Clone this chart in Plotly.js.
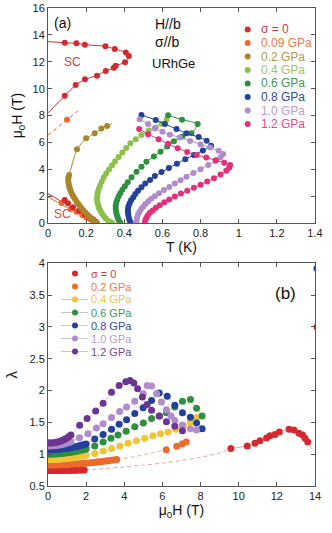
<!DOCTYPE html>
<html><head><meta charset="utf-8">
<script src="https://cdn.plot.ly/plotly-3.0.1.min.js"></script>
<style>html,body{margin:0;padding:0;background:#fff}#chart{width:332px;height:533px}</style>
</head><body><div id="chart"></div>
<script>
// ================= Panel (a): T (K) vs mu0H (T) =================
const labelsA = ['σ = 0', '0.09 GPa', '0.2 GPa', '0.4 GPa', '0.6 GPa', '0.8 GPa', '1.0 GPa', '1.2 GPa'];
const colorsA = ['#d42a2f', '#ec6a2c', '#a8862a', '#8cc04a', '#2f8f3f', '#23409a', '#b18ccb', '#e3307a'];
const textColorsA = ['#d6393b', '#ee7a45', '#b39650', '#9cc862', '#3f9650', '#2f4aa0', '#bd9ad2', '#e44a8a'];

// sigma = 0
const s0HiT = [0.088,0.149,0.193,0.301,0.350,0.408,0.424,0.404,0.355,0.345,0.303,0.257,0.194,0.145,0.088];
const s0HiH = [13.42,13.37,13.27,13.15,12.95,12.70,12.43,11.96,11.71,11.56,11.32,10.97,10.70,10.27,9.48];
const s0HiEndT = [0, 0];
const s0HiEndH = [13.5, 8.2];
const s0LoT = [0.088,0.105,0.131,0.163,0.193,0.215,0.236,0.250];
const s0LoH = [1.72,1.48,1.18,0.93,0.66,0.48,0.29,0.12];
const s0LoLineT = [0, 0.265];
const s0LoLineH = [2.2, 0];
// 0.09 GPa
const p009HiT = [0.100];
const p009HiH = [7.70];
const p009DashT = [0, 0.100, 0.170];
const p009DashH = [6.55, 7.70, 8.50];
const p009LoT = [0.070,0.120,0.150,0.180,0.200,0.220,0.235,0.245];
const p009LoH = [1.50,1.05,0.85,0.60,0.45,0.30,0.18,0.08];
const p009LoLineT = [0, 0.25];
const p009LoLineH = [1.95, 0];
// 0.2 GPa
const p02T = [0.310,0.280,0.245,0.200,0.152,0.111,0.107,0.106,0.107,0.109,0.112,0.116,0.121,0.127,0.134,0.142,0.150,0.159,0.168,0.177,0.186,0.196,0.206,0.216,0.226,0.236,0.246,0.256];
const p02H = [7.22,7.05,6.68,6.31,5.49,3.58,3.40,3.22,3.04,2.86,2.68,2.50,2.32,2.14,1.96,1.78,1.60,1.42,1.26,1.10,0.95,0.80,0.65,0.50,0.36,0.24,0.12,0.03];
const p02TopT = [0.335];
const p02TopH = [7.40];
// 0.4 GPa
const p04T = [0.622,0.595,0.565,0.528,0.490,0.460,0.432,0.410,0.390,0.370,0.352,0.336,0.320,0.305,0.292,0.282,0.273,0.266,0.261,0.258,0.257,0.259,0.263,0.268,0.275,0.283,0.292,0.302,0.315,0.328,0.338];
const p04H = [7.70,7.40,7.12,6.90,6.55,6.25,5.95,5.60,5.25,4.92,4.60,4.30,4.00,3.70,3.40,3.10,2.80,2.55,2.30,2.05,1.80,1.56,1.33,1.12,0.92,0.72,0.54,0.36,0.19,0.08,0.02];
// 0.6 GPa
const p06T = [0.630,0.703,0.785,0.752,0.705,0.660,0.625,0.590,0.555,0.516,0.490,0.464,0.438,0.418,0.403,0.390,0.379,0.370,0.363,0.358,0.355,0.355,0.357,0.360,0.364,0.369,0.374,0.379];
const p06H = [8.02,7.70,7.37,6.68,6.45,6.10,5.70,5.32,4.95,4.57,4.20,3.83,3.41,3.05,2.75,2.48,2.22,1.98,1.75,1.52,1.30,1.08,0.86,0.66,0.47,0.30,0.15,0.03];
// 0.8 GPa
const p08T = [0.490,0.565,0.613,0.674,0.726,0.790,0.832,0.855,0.812,0.765,0.720,0.676,0.634,0.595,0.560,0.535,0.510,0.490,0.472,0.458,0.447,0.436,0.428,0.422,0.419,0.419,0.421,0.424,0.428,0.433];
const p08H = [8.04,7.67,7.37,7.00,6.68,6.40,6.13,5.76,5.40,5.07,4.75,4.42,4.10,3.80,3.50,3.22,2.95,2.68,2.42,2.17,1.93,1.70,1.48,1.26,1.04,0.82,0.61,0.41,0.22,0.05];
// 1.0 GPa
const p10T = [0.481,0.525,0.560,0.600,0.639,0.690,0.745,0.800,0.850,0.895,0.918,0.905,0.878,0.840,0.800,0.762,0.726,0.695,0.665,0.636,0.608,0.582,0.560,0.541,0.525,0.511,0.499,0.488,0.479,0.472,0.467,0.464];
const p10H = [7.72,7.37,7.05,6.80,6.58,6.38,6.12,5.86,5.62,5.38,5.15,4.90,4.62,4.32,4.02,3.74,3.46,3.20,2.95,2.70,2.46,2.23,2.01,1.81,1.61,1.42,1.23,1.04,0.84,0.62,0.38,0.12];
// 1.2 GPa
const p12T = [0.478,0.525,0.580,0.630,0.680,0.730,0.780,0.830,0.880,0.924,0.955,0.950,0.935,0.905,0.870,0.835,0.800,0.765,0.730,0.697,0.665,0.636,0.610,0.586,0.566,0.549,0.535,0.524,0.516,0.511,0.508];
const p12H = [7.00,6.62,6.25,5.90,5.58,5.30,5.07,4.88,4.68,4.50,4.33,4.13,3.90,3.62,3.35,3.10,2.86,2.63,2.42,2.20,1.98,1.76,1.55,1.34,1.14,0.95,0.77,0.59,0.41,0.24,0.08];

// ================= Panel (b): mu0H (T) vs lambda =================
const labelsB = ['σ = 0', '0.2 GPa', '0.4 GPa', '0.6 GPa', '0.8 GPa', '1.0 GPa', '1.2 GPa'];
const colorsB = ['#d42a2f', '#ec6a2c', '#f0c53a', '#2f8f3f', '#23409a', '#b18ccb', '#6d3590'];
const textColorsB = ['#d6393b', '#ee7a45', '#efc44a', '#3f9650', '#2f4aa0', '#bd9ad2', '#7a4599'];

const b0LoH = [0.0,0.1,0.2,0.3,0.4,0.5,0.6,0.7,0.8,0.9,1.0,1.1,1.2,1.3,1.4,1.5,1.6,1.7,1.8,1.9];
const b0LoL = [0.745,0.744,0.743,0.743,0.742,0.742,0.742,0.742,0.743,0.743,0.744,0.745,0.746,0.747,0.748,0.749,0.750,0.751,0.752,0.753];
const b0DashH = [1.95,3.0,4.0,5.0,6.0,7.0,8.0,9.0,9.59];
const b0DashL = [0.756,0.775,0.800,0.828,0.860,0.900,0.950,1.020,1.090];
const b0HiH = [9.59,10.45,10.85,11.11,11.46,11.64,11.90,12.13,12.64,12.90,13.16,13.35,13.48,13.62];
const b0HiL = [1.09,1.13,1.17,1.21,1.256,1.29,1.31,1.35,1.39,1.38,1.33,1.30,1.25,1.19];
const b0HiEndH = [13.85];
const b0HiEndL = [1.08];
const b0EdgeH = [14.1];
const b0EdgeL = [3.0];
const b08EdgeH = [14.1];
const b08EdgeL = [3.92];

const b02LoH = [0,0.15,0.3,0.45,0.6,0.75,0.9,1.05,1.2,1.35,1.5,1.65,1.8,1.95,2.1,2.25,2.4,2.55,2.7,2.85,3.0,3.15,3.3,3.45,3.6];
const b02LoL = [0.830,0.830,0.831,0.832,0.833,0.835,0.837,0.839,0.842,0.845,0.848,0.851,0.855,0.859,0.863,0.867,0.871,0.876,0.881,0.886,0.891,0.897,0.903,0.909,0.915];
const b02DashH = [3.6,4.5,5.3,6.2];
const b02DashL = [0.915,0.960,1.010,1.070];
const b02HiH = [6.2,6.75,7.05,7.25];
const b02HiL = [1.07,1.125,1.165,1.19];

const b04H = [0,0.1,0.2,0.3,0.4,0.5,0.6,0.7,0.8,0.9,1.0,1.1,1.2,1.3,1.4,1.5,1.6,1.7,1.8,1.9,2.0,2.45,2.9,3.33,3.77,4.2,4.64,5.07,5.5,5.9,6.3,6.7,7.1,7.45,7.79];
const b04L = [0.915,0.915,0.916,0.917,0.918,0.920,0.922,0.924,0.927,0.930,0.933,0.937,0.941,0.945,0.950,0.955,0.960,0.965,0.970,0.976,0.982,1.01,1.05,1.09,1.13,1.17,1.21,1.25,1.29,1.32,1.35,1.39,1.44,1.50,1.575];

const b06H = [0,0.1,0.2,0.3,0.4,0.5,0.6,0.7,0.8,0.9,1.0,1.1,1.2,1.3,1.4,1.5,1.6,1.7,1.8,1.9,2.0,2.45,2.89,3.3,3.67,4.1,4.55,5.0,5.43,5.85,6.21,6.65,7.05,7.47,7.79,8.08];
const b06L = [1.000,1.000,1.001,1.002,1.003,1.005,1.007,1.010,1.013,1.017,1.021,1.025,1.030,1.035,1.041,1.047,1.053,1.060,1.067,1.075,1.083,1.13,1.19,1.25,1.30,1.36,1.43,1.49,1.56,1.60,1.65,1.74,1.83,1.86,1.72,1.60];

const b08H = [0,0.1,0.2,0.3,0.4,0.5,0.6,0.7,0.8,0.9,1.0,1.1,1.2,1.3,1.4,1.5,1.6,1.7,1.8,1.9,2.0,2.45,2.89,3.33,3.73,4.12,4.55,4.99,5.43,5.83,6.25,6.65,7.05,7.47,7.79,8.08];
const b08L = [1.070,1.070,1.071,1.072,1.074,1.076,1.078,1.081,1.084,1.088,1.092,1.097,1.102,1.108,1.114,1.121,1.128,1.136,1.144,1.153,1.162,1.24,1.31,1.39,1.47,1.54,1.64,1.73,1.845,1.96,1.91,1.77,1.65,1.58,1.49,1.40];

const b10H = [0,0.1,0.2,0.3,0.4,0.5,0.6,0.7,0.8,0.9,1.0,1.1,1.2,1.65,2.1,2.54,2.89,3.33,3.76,4.12,4.55,4.99,5.2,5.43,5.7,5.95,6.21,6.45,6.65,7.05,7.47,7.79];
const b10L = [1.130,1.130,1.131,1.133,1.136,1.140,1.145,1.151,1.158,1.166,1.175,1.185,1.196,1.26,1.32,1.41,1.48,1.575,1.67,1.74,1.83,1.95,2.08,2.07,1.95,1.82,1.70,1.60,1.53,1.46,1.40,1.38];

const b12H = [0,0.1,0.2,0.3,0.4,0.5,0.6,0.7,0.8,0.9,1.0,1.1,1.2,1.66,2.05,2.5,2.89,3.33,3.73,4.08,4.3,4.5,4.7,4.95,5.2,5.43,5.83,6.21,6.65,7.05];
const b12L = [1.180,1.175,1.175,1.178,1.183,1.190,1.199,1.210,1.223,1.238,1.256,1.277,1.300,1.455,1.56,1.68,1.80,1.975,2.08,2.14,2.16,2.12,2.03,1.90,1.78,1.69,1.60,1.51,1.44,1.37];

// ================= build traces =================
const traces = [];
function lineA(x, y, color, opts) {
  traces.push(Object.assign({x: x, y: y, xaxis: 'x', yaxis: 'y', type: 'scatter', mode: 'lines',
    line: {color: color, width: 1, shape: 'spline', smoothing: 0.6}, hoverinfo: 'skip', showlegend: false}, opts || {}));
}
function ptsA(x, y, color) {
  traces.push({x: x, y: y, xaxis: 'x', yaxis: 'y', type: 'scatter', mode: 'markers',
    marker: {color: color, size: 6}, showlegend: false});
}
// sigma=0
lineA([s0HiEndT[0]].concat(s0HiT, [s0HiEndT[1]]), [s0HiEndH[0]].concat(s0HiH, [s0HiEndH[1]]), colorsA[0]);
ptsA(s0HiT, s0HiH, colorsA[0]);
lineA(s0LoLineT, s0LoLineH, colorsA[0], {line: {color: colorsA[0], width: 1}});
// 0.09
lineA(p009DashT, p009DashH, colorsA[1], {line: {color: colorsA[1], width: 1, dash: '4px,3px'}});
ptsA(p009HiT, p009HiH, colorsA[1]);
lineA(p009LoLineT, p009LoLineH, colorsA[1], {line: {color: colorsA[1], width: 1}});
ptsA(p009LoT, p009LoH, colorsA[1]);
ptsA(s0LoT, s0LoH, colorsA[0]);
// 0.2
lineA(p02TopT.concat(p02T), p02TopH.concat(p02H), colorsA[2]);
ptsA(p02T, p02H, colorsA[2]);
// 0.4 .. 1.2
[[p04T,p04H,3],[p06T,p06H,4],[p08T,p08H,5],[p10T,p10H,6],[p12T,p12H,7]].forEach(function(s){
  lineA(s[0], s[1], colorsA[s[2]]);
  ptsA(s[0], s[1], colorsA[s[2]]);
});

function lineB(x, y, color, dash) {
  traces.push({x: x, y: y, xaxis: 'x2', yaxis: 'y2', type: 'scatter', mode: 'lines',
    line: {color: color, width: 1, shape: 'spline', smoothing: 0.5, dash: dash || 'solid'}, hoverinfo: 'skip', showlegend: false});
}
function ptsB(x, y, color) {
  traces.push({x: x, y: y, xaxis: 'x2', yaxis: 'y2', type: 'scatter', mode: 'markers',
    marker: {color: color, size: 7}, showlegend: false});
}
const greyLine = '#c9c9c9';
lineB(b0DashH, b0DashL, '#e7a3a3', '4px,3px');
lineB(b0HiH.concat(b0HiEndH), b0HiL.concat(b0HiEndL), '#e7a3a3');
lineB(b02DashH, b02DashL, '#f1b08f', '4px,3px');
lineB(b04H, b04L, '#f3d77e');
lineB(b06H, b06L, greyLine);
lineB(b08H, b08L, greyLine);
lineB(b10H, b10L, greyLine);
lineB(b12H, b12L, greyLine);
ptsB(b0LoH, b0LoL, colorsB[0]);
ptsB(b0HiH, b0HiL, colorsB[0]);
ptsB(b02LoH, b02LoL, colorsB[1]);
ptsB(b02HiH, b02HiL, colorsB[1]);
ptsB(b04H, b04L, colorsB[2]);
ptsB(b06H, b06L, colorsB[3]);
ptsB(b08H, b08L, colorsB[4]);
ptsB(b10H, b10L, colorsB[5]);
ptsB(b12H, b12L, colorsB[6]);
ptsB(b0EdgeH, b0EdgeL, colorsB[0]);
ptsB(b08EdgeH, b08EdgeL, colorsB[4]);

// ================= layout =================
const FONT = 'Liberation Sans, Arial, sans-serif';
const PL = 48, PR = 315, PT = 8, PB = 486;
function fx(px) { return (px - PL) / (PR - PL); }
function fy(py) { return (PB - py) / (PB - PT); }

const shapes = [];
const annotations = [];
function dot(xp, yp, color, r) {
  shapes.push({type: 'circle', xref: 'paper', yref: 'paper', xsizemode: 'pixel', ysizemode: 'pixel',
    xanchor: xp, yanchor: yp, x0: -r, x1: r, y0: -r, y1: r, fillcolor: color, line: {width: 0}});
}
function txt(xp, yp, text, color, size, xanchor) {
  annotations.push({xref: 'paper', yref: 'paper', x: xp, y: yp, text: text, showarrow: false, borderpad: 0,
    xanchor: xanchor || 'left', yanchor: 'middle', font: {family: FONT, size: size, color: color}});
}
// legend (a)
labelsA.forEach(function(lab, i) {
  const py = 29.5 + 13.5 * i;
  dot(fx(247.7), fy(py), colorsA[i], 3);
  txt(fx(260), fy(py), lab, textColorsA[i], 12);
});
// legend (b)
labelsB.forEach(function(lab, i) {
  const py = 273.5 + 13 * i;
  if (i >= 2) {
    shapes.push({type: 'line', xref: 'paper', yref: 'paper', x0: fx(61), x1: fx(88), y0: fy(py), y1: fy(py),
      line: {color: i === 2 ? '#f0c860' : greyLine, width: 1}});
  }
  dot(fx(75), fy(py), colorsB[i], 3);
  txt(fx(90), fy(py), lab, textColorsB[i], 11);
});
// panel texts
txt(fx(53), fy(23), '(a)', '#111', 14);
txt(fx(154), fy(24), 'H//b', '#111', 14);
txt(fx(154), fy(42), 'σ//b', '#111', 14);
txt(fx(151), fy(64), 'URhGe', '#111', 13);
txt(fx(63), fy(62), 'SC', '#d6393b', 12);
txt(fx(53), fy(214), 'SC', '#e0483a', 12);
txt(fx(274), fy(293), '(b)', '#111', 17);

const axBase = {showgrid: false, zeroline: false, showline: true, linecolor: '#555', linewidth: 1,
  mirror: 'ticks', ticks: 'inside', ticklen: 4, tickcolor: '#555',
  tickfont: {family: FONT, size: 11, color: '#222'}};

const layout = {
  width: 332, height: 533,
  margin: {l: PL, r: 332 - PR, t: PT, b: 533 - PB},
  paper_bgcolor: '#fff', plot_bgcolor: '#fff',
  showlegend: false,
  font: {family: FONT},
  xaxis: Object.assign({}, axBase, {anchor: 'y', domain: [0, 1], range: [0, 1.4], dtick: 0.2, tick0: 0,
    title: {text: 'T (K)', font: {family: FONT, size: 14, color: '#111'}, standoff: 2}}),
  yaxis: Object.assign({}, axBase, {anchor: 'x', domain: [fy(223.2), 1], range: [0, 16], dtick: 2, tick0: 0,
    title: {text: 'μ<sub>0</sub>H (T)', font: {family: FONT, size: 14, color: '#111'}, standoff: 6}}),
  xaxis2: Object.assign({}, axBase, {anchor: 'y2', domain: [0, 1], range: [0, 14], dtick: 2, tick0: 0,
    title: {text: 'μ<sub>0</sub>H (T)', font: {family: FONT, size: 14, color: '#111'}, standoff: 2}}),
  yaxis2: Object.assign({}, axBase, {anchor: 'x2', domain: [0, fy(263.3)], range: [0.5, 4], dtick: 0.5, tick0: 0.5,
    title: {text: 'λ', font: {family: FONT, size: 15, color: '#111'}, standoff: 8}}),
  shapes: shapes,
  annotations: annotations
};

Plotly.newPlot('chart', traces, layout, {staticPlot: true, displayModeBar: false});
</script>
</body></html>
